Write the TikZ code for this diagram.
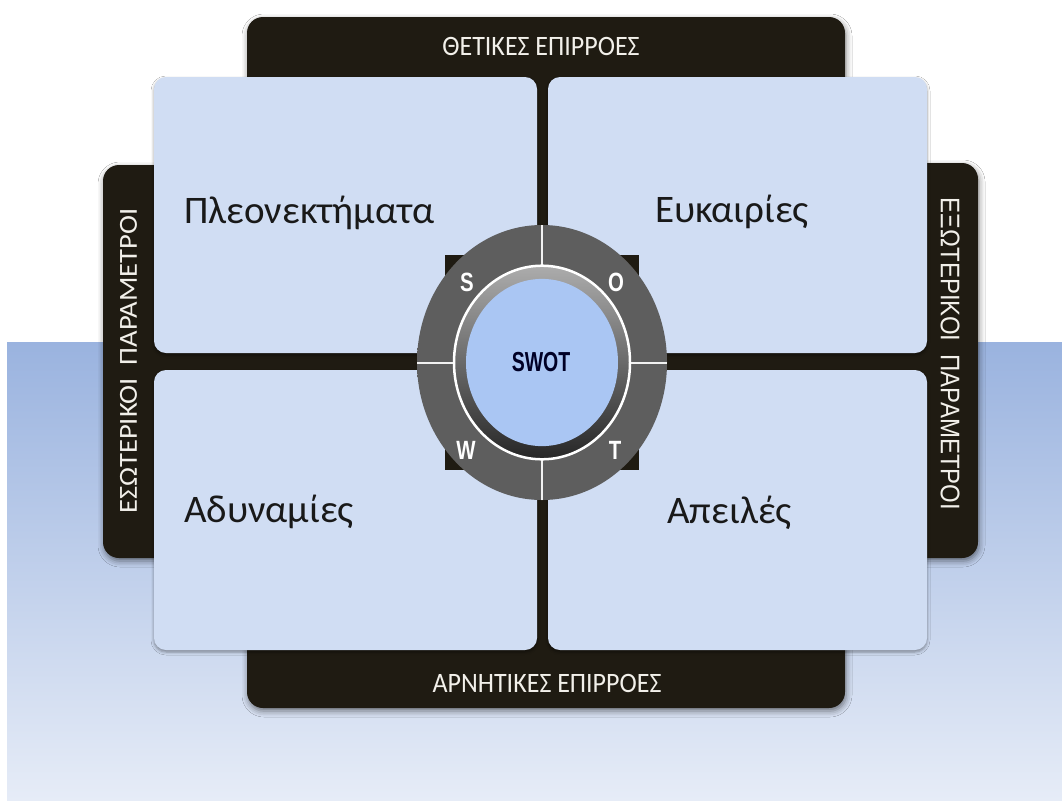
\documentclass[tikz,border=0pt]{standalone}
\usepackage{fontspec}
\usepackage{graphicx}
\setmainfont{Carlito}
\newfontfamily\arialf{Liberation Sans}
\usetikzlibrary{shadows.blur}
\definecolor{barc}{HTML}{1F1B12}
\definecolor{quadc}{HTML}{D0DDF3}
\definecolor{bgtop}{HTML}{9AB3DF}
\definecolor{bgbot}{HTML}{E6ECF7}
\definecolor{bartxt}{HTML}{F2F0EA}
\definecolor{ringA}{HTML}{5E5E5E}
\definecolor{ringB}{HTML}{6D6D6D}
\definecolor{ringC}{HTML}{525252}
\definecolor{ringD}{HTML}{363636}
\definecolor{btnin}{HTML}{AAC6F3}
\definecolor{btnout}{HTML}{94B4EA}
\pgfdeclareradialshading{ringshade}{\pgfpoint{0cm}{0cm}}{color(0bp)=(ringA); color(35bp)=(ringA); color(41bp)=(ringB); color(47bp)=(ringC); color(50bp)=(ringD)}
\pgfdeclareradialshading{btnshade}{\pgfpoint{0cm}{0cm}}{color(0bp)=(btnin); color(30bp)=(btnin); color(46bp)=(btnout); color(50bp)=(btnout!85!black)}
\tikzset{
  barshape/.style={fill=barc, rounded corners=16pt, blur shadow={shadow xshift=1pt, shadow yshift=-3pt, shadow blur radius=6pt, shadow opacity=50}},
  quad/.style={fill=quadc, rounded corners=12pt, inner sep=0pt, outer sep=0pt, blur shadow={shadow xshift=0pt, shadow yshift=-2pt, shadow blur radius=3pt, shadow opacity=40}},
  qtext/.style={font=\fontsize{39}{41}\selectfont, text=black!90, inner sep=0pt, anchor=base west},
  bartext/.style={font=\fontsize{26}{28}\selectfont, text=bartxt, inner sep=0pt},
  bartextb/.style={font=\arialf\fontsize{24}{26}\selectfont, text=bartxt, inner sep=0pt},
  letter/.style={font=\arialf\bfseries\fontsize{24}{26}\selectfont, text=white, inner sep=0pt, xscale=0.85, yscale=1.1},
}
\begin{document}
\begin{tikzpicture}[x=1pt,y=-1pt]
\useasboundingbox (0,0) rectangle (1062,801);
\fill[white] (0,0) rectangle (1062,801);
\shade[top color=bgtop, bottom color=bgbot] (7,342) rectangle (1062,800);
% dark frame
\path[barshape] (247,17) rectangle (845,120);
\path[barshape] (247,600) rectangle (845,708);
\path[barshape] (103,165) rectangle (180,558);
\path[barshape] (905,163) rectangle (978,558);
\fill[barc] (536,100) rectangle (549,620);
\fill[barc] (150,352) rectangle (935,371);
% quadrants
\node[quad, minimum width=383pt, minimum height=276pt] (tl) at (345.5,215) {};
\node[quad, minimum width=379pt, minimum height=276pt] (tr) at (737.5,215) {};
\node[quad, minimum width=383pt, minimum height=280pt] (bl) at (345.5,510) {};
\node[quad, minimum width=379pt, minimum height=280pt] (br) at (737.5,510) {};
% quadrant texts
\node[qtext] (ts) at (184,223) {Πλεονεκτήματα};
\node[qtext] (to) at (655,222) {Ευκαιρίες};
\node[qtext] (tw) at (184,522) {Αδυναμίες};
\node[qtext] (tt) at (667,523) {Απειλές};
% bar texts
\node[bartext, yscale=1.08] (top) at (541,46) {ΘΕΤΙΚΕΣ ΕΠΙΡΡΟΕΣ};
\node[bartext, yscale=1.08] (bot) at (547,683) {ΑΡΝΗΤΙΚΕΣ ΕΠΙΡΡΟΕΣ};
\node[bartext] (lft) at (128.5,361) {\rotatebox{90}{\scalebox{1.1}[1]{ΕΣΩΤΕΡΙΚΟΙ\ \ ΠΑΡΑΜΕΤΡΟΙ}}};
\node[bartextb] (rgt) at (950,354) {\rotatebox{-90}{\scalebox{1}[1.12]{ΕΞΩΤΕΡΙΚΟΙ\ \ ΠΑΡΑΜΕΤΡΟΙ}}};
% center ring
\begin{scope}[shift={(542,362.5)}, yscale=1.1]
  \fill[barc] (-97,-98) rectangle (97,98);
  \shade[shading=ringshade] (0,0) circle (125pt);
  \shade[top color=gray!65, bottom color=black!85] (0,0) circle (88pt);
  \draw[white!90!gray, line width=2pt] (0,88) -- (0,125) (0,-88) -- (0,-125) (88,0) -- (125,0) (-88,0) -- (-125,0);
  \draw[white, line width=2.5pt] (0,0) circle (88pt);
  \shade[shading=btnshade] (0,0) circle (76pt);
\end{scope}
\node[letter] (ls) at (467,282) {S};
\node[letter] (lo) at (616,282) {O};
\node[letter] (lw) at (466,450) {W};
\node[letter] (lt) at (615,450) {T};
\node[font=\arialf\bfseries\fontsize{25}{27}\selectfont, text=black!85!blue, xscale=0.78, yscale=1.1, inner sep=0pt] (swot) at (541,362) {SWOT};
\end{tikzpicture}
\end{document}
